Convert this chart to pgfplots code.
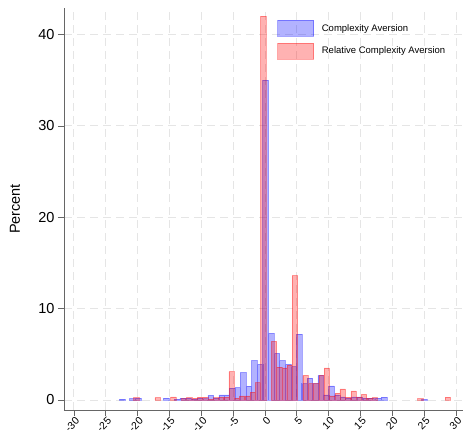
\documentclass[border=0pt]{standalone}
\usepackage{pgfplots}
\pgfplotsset{compat=1.18}
\usepackage{fontspec}
\setmainfont{Liberation Sans}
\pgfplotsset{every axis/.append style={legend image code/.code={\draw[#1] (0pt,-8pt) rectangle (36pt,8pt);}}}
\begin{document}
\begin{tikzpicture}
\begin{axis}[
  width=399pt, height=402pt, scale only axis,
  xmin=-31.55, xmax=31.1, ymin=-1.1, ymax=42.9,
  axis x line*=bottom, axis y line*=left,
  axis line style={draw=black!60, line width=0.8pt, -},
  xtick={-30,-25,...,30}, ytick={0,10,20,30,40},
  tick align=outside, major tick length=6pt,
  tick style={draw=black!60, line width=0.7pt},
  xticklabel style={rotate=45, anchor=north east, font=\fontsize{10.5}{12}\selectfont, inner sep=1pt, xshift=1.5pt},
  yticklabel style={font=\fontsize{14.5}{16}\selectfont},
  /pgf/number format/assume math mode=true,
  ylabel={Percent},
  every axis y label/.style={at={(rel axis cs:0,0.5)}, xshift=-49pt, rotate=90, anchor=center, font=\fontsize{14.5}{16}\selectfont},
  grid=major, major grid style={draw=black!10, dash pattern=on 8pt off 5pt, line width=0.8pt},
  legend style={at={(0.527,0.975)}, anchor=north west, draw=none, fill=none,
    font=\fontsize{9.5}{11}\selectfont, row sep=6pt,
    /tikz/every odd column/.append style={column sep=6pt}},
  legend cell align=left,
]
\addplot[ybar, bar width=0.885, bar shift=0pt, fill=blue, fill opacity=0.3, draw=blue, draw opacity=0.35, line width=0.4pt]
coordinates {
(-22.4,0.1) (-20.8,0.15) (-19.9,0.2) (-15.5,0.2) (-13.8,0.1) (-12.9,0.2) (-12.0,0.2)
(-11.1,0.1) (-10.2,0.2) (-9.3,0.15) (-8.5,0.5) (-7.7,0.2) (-6.8,0.55) (-6.0,0.55)
(-5.15,1.3) (-4.27,1.35) (-3.4,3.0) (-2.55,1.5) (-1.65,4.3) (-0.78,3.9) (0.08,35)
(0.97,7.3) (1.85,5.1) (2.74,4.3) (3.62,3.9) (4.5,3.65) (5.37,7.2) (6.2,1.8)
(7.05,2.4) (7.9,1.8) (8.75,2.7) (9.6,0.55) (10.45,1.55) (11.3,0.55) (12.2,0.35)
(13.1,0.2) (14.0,0.35) (14.9,0.35) (15.8,0.2) (16.7,0.2) (17.8,0.2) (18.7,0.3) (25.0,0.05)
};
\addlegendentry{Complexity Aversion}
\addplot[ybar, bar width=0.83, bar shift=0pt, fill=red, fill opacity=0.3, draw=red, draw opacity=0.35, line width=0.4pt]
coordinates {
(-20.2,0.25) (-16.85,0.25) (-14.4,0.35) (-12.7,0.15) (-11.9,0.25) (-11.0,0.2) (-10.2,0.3)
(-9.4,0.3) (-8.55,0.1) (-7.7,0.25) (-6.9,0.3) (-6.05,0.3) (-5.25,3.1) (-4.4,0.2)
(-3.6,0.45) (-2.75,0.45) (-1.9,0.85) (-1.08,1.9) (-0.25,42) (1.41,6.4) (2.24,3.6)
(3.07,3.5) (3.9,3.8) (4.7,13.6) (6.35,2.7) (7.2,1.8) (8.05,1.8) (8.88,2.7) (9.7,3.5)
(10.55,0.45) (11.4,0.75) (12.2,1.2) (13.05,0.3) (13.9,1.0) (14.7,0.3) (15.55,0.6)
(16.4,0.2) (17.2,0.25) (24.4,0.15) (28.7,0.3)
};
\addlegendentry{Relative Complexity Aversion}
\end{axis}
\pgfresetboundingbox
\path ([shift={(-64pt,8pt)}]current axis.north west) rectangle ([shift={(0pt,-26pt)}]current axis.south east);
\end{tikzpicture}
\end{document}
